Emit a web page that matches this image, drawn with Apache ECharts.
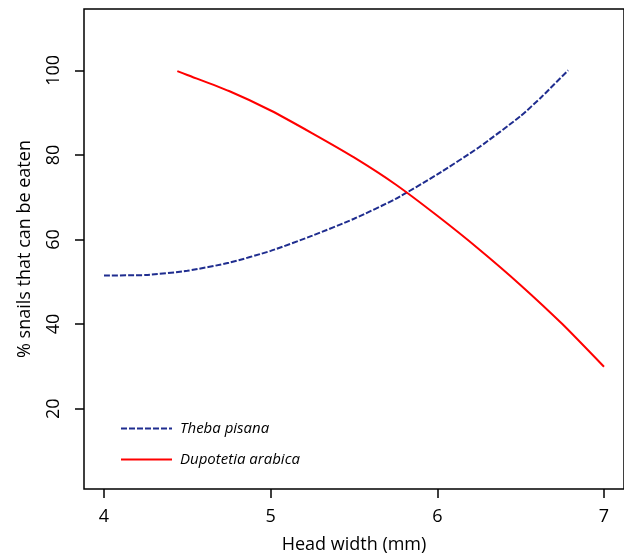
<!DOCTYPE html>
<html>
<head>
<meta charset="utf-8">
<script src="https://cdn.jsdelivr.net/npm/echarts@6/dist/echarts.min.js"></script>
<style>html,body{margin:0;padding:0;background:#fff;}#c{width:624px;height:559px;}</style>
</head>
<body>
<div id="c"></div>
<script>
// Data
const thebaX = [4.0, 4.25, 4.5, 4.75, 5.0, 5.25, 5.5, 5.75, 6.0, 6.25, 6.5, 6.625, 6.785];
const thebaY = [51.5, 51.6, 52.6, 54.5, 57.3, 60.9, 64.9, 69.6, 75.4, 81.8, 89.2, 93.7, 100];
const dupoX = [4.44, 4.5, 4.75, 5.0, 5.25, 5.5, 5.75, 6.0, 6.25, 6.5, 6.75, 7.0];
const dupoY = [99.8, 98.9, 95.1, 90.5, 85.1, 79.4, 73.0, 65.6, 57.7, 49.2, 40.0, 29.9];
const xTicks = [4, 5, 6, 7];
const yTicks = [20, 40, 60, 80, 100];
const seriesNames = ['Theba pisana', 'Dupotetia arabica'];

const font = '"Open Sans", Lato, sans-serif';
const dashIcon = 'path://M0,0h6v2h-6z M8,0h6v2h-6z M16,0h6v2h-6z M24,0h6v2h-6z M32,0h6v2h-6z M40,0h6v2h-6z M48,0h3v2h-3z';
const solidIcon = 'path://M0,0h51v2h-51z';
const chart = echarts.init(document.getElementById('c'), null, {renderer: 'canvas'});
chart.setOption({
  animation: false,
  backgroundColor: '#fff',
  grid: {left: 84, top: 9, width: 541, height: 484, show: true, borderColor: '#000', borderWidth: 1.5, backgroundColor: 'transparent'},
  legend: {
    left: 116, top: 416, orient: 'vertical', itemWidth: 51, itemHeight: 2, itemGap: 16,
    textStyle: {fontFamily: font, fontStyle: 'italic', fontSize: 15, color: '#000', padding: [0, 0, 0, 3]},
    data: [
      {name: seriesNames[0], icon: dashIcon},
      {name: seriesNames[1], icon: solidIcon}
    ]
  },
  xAxis: {
    type: 'value', min: 3.88, max: 7.12,
    name: 'Head width (mm)', nameLocation: 'middle', nameGap: 47,
    nameTextStyle: {fontFamily: font, fontSize: 18, color: '#000'},
    axisLine: {show: false},
    axisTick: {show: true, inside: false, length: 9, lineStyle: {color: '#000', width: 1.5}, customValues: xTicks},
    axisLabel: {fontFamily: font, fontSize: 18, color: '#000', margin: 19, customValues: xTicks},
    splitLine: {show: false}
  },
  yAxis: {
    type: 'value', min: 1, max: 114.5,
    name: '% snails that can be eaten', nameLocation: 'middle', nameGap: 50, nameRotate: 90,
    nameTextStyle: {fontFamily: font, fontSize: 18, color: '#000'},
    axisLine: {show: false},
    axisTick: {show: true, inside: false, length: 9, lineStyle: {color: '#000', width: 1.5}, customValues: yTicks},
    axisLabel: {fontFamily: font, fontSize: 18, color: '#000', margin: 21, rotate: 90, customValues: yTicks},
    splitLine: {show: false}
  },
  series: [
    {
      name: seriesNames[0], type: 'line', showSymbol: false, symbol: 'none', smooth: 0.2,
      lineStyle: {color: '#1f2d8f', width: 2, type: [6, 2]},
      itemStyle: {color: '#1f2d8f'},
      data: thebaX.map((x, i) => [x, thebaY[i]])
    },
    {
      name: seriesNames[1], type: 'line', showSymbol: false, symbol: 'none', smooth: 0.2,
      lineStyle: {color: '#ff0000', width: 2},
      itemStyle: {color: '#ff0000'},
      data: dupoX.map((x, i) => [x, dupoY[i]])
    }
  ]
});
</script>
</body>
</html>
